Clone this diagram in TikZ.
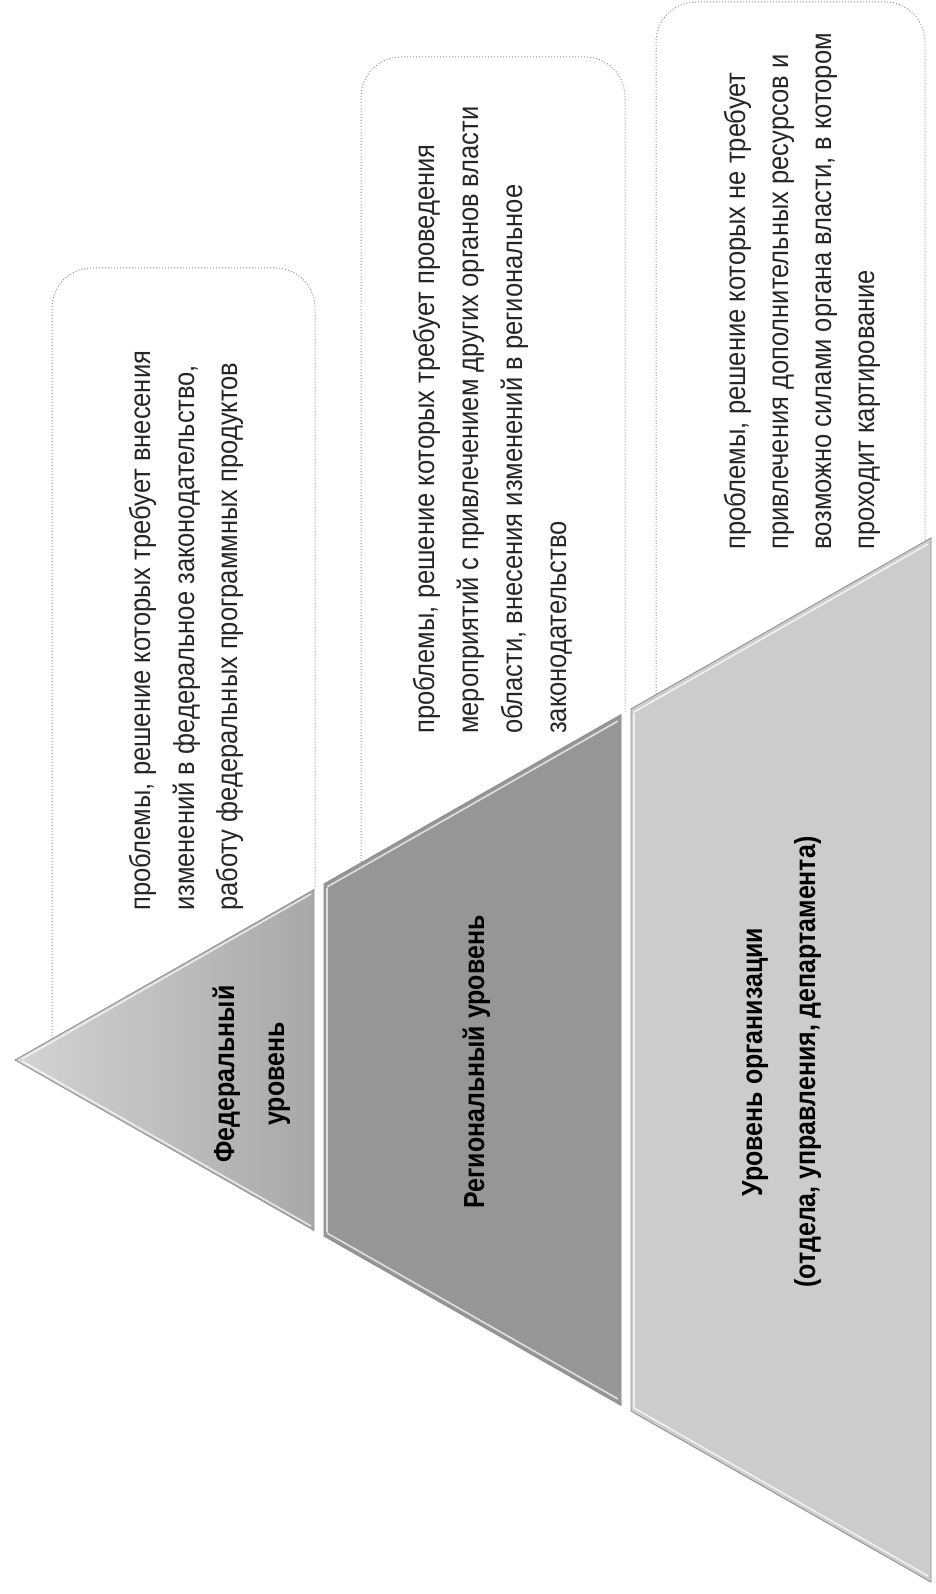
\documentclass[tikz,border=0pt]{standalone}
\usepackage{fontspec}
\newfontfamily\descfont{Liberation Sans}[FakeStretch=0.88]
\newfontfamily\lvlfont{Liberation Sans}[FakeStretch=0.86]
\definecolor{fedL}{gray}{0.83}
\definecolor{fedR}{gray}{0.66}
\definecolor{reggray}{gray}{0.59}
\definecolor{orggray}{gray}{0.80}
\definecolor{boxline}{gray}{0.58}
\tikzset{
  desc/.style={rotate=90, anchor=base west, inner sep=0pt, font=\descfont\fontsize{29}{44}\selectfont, text=black!85},
  lvl/.style={rotate=90, anchor=base, inner sep=0pt, font=\lvlfont\bfseries\fontsize{29}{44}\selectfont, text=black},
  dbox/.style={draw=boxline, dotted, line width=1pt, rounded corners=40pt},
  band/.style={draw=black!45, line width=0.8pt},
  bevel/.style={draw=white, line width=1.6pt, opacity=0.7}
}
\begin{document}
\begin{tikzpicture}[x=1pt,y=-1pt]
\useasboundingbox (0,0) rectangle (936,1594);
\fill[white] (0,0) rectangle (936,1594);
% description boxes (behind the pyramid)
\begin{scope}
  \clip (0,0) -- (936,0) -- (936,535) -- (15,1060) -- (0,1060) -- cycle;
  \draw[dbox] (52,1150) -- (52,268) -- (315,268) -- (315,1150);
  \draw[dbox] (361,1150) -- (361,57) -- (625,57) -- (625,1150);
  \draw[dbox] (656,1150) -- (656,2) -- (925,2) -- (925,1150);
\end{scope}
% pyramid bands
\coordinate (apex) at (15,1060);
\shade[left color=fedL, right color=fedR] (apex) -- (314,889.6) -- (314,1230.4) -- cycle;
\draw[band] (apex) -- (314,889.6) -- (314,1230.4) -- cycle;
\draw[bevel] (22,1059) -- (311,894) (22,1061) -- (311,1226);
\fill[reggray] (324,883.9) -- (621,714.6) -- (621,1405.4) -- (324,1236.1) -- cycle;
\draw[band] (324,883.9) -- (621,714.6) -- (621,1405.4) -- (324,1236.1) -- cycle;
\draw[bevel] (327,887) -- (618,721) (327,1233) -- (618,1399) (327,888) -- (327,1232);
\fill[orggray] (631,708.9) -- (931,537.9) -- (931,1582.1) -- (631,1411.1) -- cycle;
\draw[band] (631,708.9) -- (931,537.9) -- (931,1582.1) -- (631,1411.1) -- cycle;
\draw[bevel] (634,712) -- (928,544) (634,1408) -- (928,1576) (634,713) -- (634,1407);
% level labels
\node[lvl] (fedA) at (234,1074) {Федеральный};
\node[lvl] (fedB) at (284,1074) {уровень};
\node[lvl] (regA) at (484,1062) {Региональный уровень};
\node[lvl] (orgA) at (762,1062) {Уровень организации};
\node[lvl] (orgB) at (815,1062) {(отдела, управления, департамента)};
% descriptions
\node[desc] (fed1) at (150,911) {проблемы, решение которых требует внесения};
\node[desc] (fed2) at (194,911) {изменений в федеральное законодательство,};
\node[desc] (fed3) at (237,911) {работу федеральных программных продуктов};
\node[desc] (reg1) at (434,734) {проблемы, решение которых требует проведения};
\node[desc] (reg2) at (478,734) {мероприятий с привлечением других органов власти};
\node[desc] (reg3) at (522,734) {области, внесения изменений в региональное};
\node[desc] (reg4) at (566,734) {законодательство};
\node[desc] (org1) at (745,550) {проблемы, решение которых не требует};
\node[desc] (org2) at (788,550) {привлечения дополнительных ресурсов и};
\node[desc] (org3) at (831,550) {возможно силами органа власти, в котором};
\node[desc] (org4) at (874,550) {проходит картирование};
\end{tikzpicture}
\end{document}
